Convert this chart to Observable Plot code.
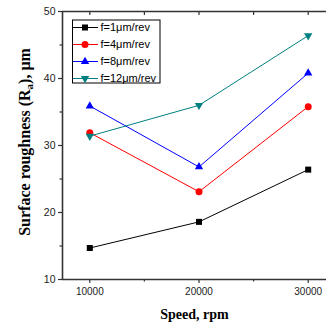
<!DOCTYPE html>
<html><head><meta charset="utf-8">
<script src="https://cdn.jsdelivr.net/npm/d3@7"></script>
<script src="https://cdn.jsdelivr.net/npm/@observablehq/plot@0.6"></script>
<style>body{margin:0;background:#fff}</style>
</head><body><div id="chart"></div>
<script>
const speeds = [10000, 20000, 30000];
const seriesNames = ["f=1μm/rev", "f=4μm/rev", "f=8μm/rev", "f=12μm/rev"];
const f1 = [14.7, 18.6, 26.4];
const f4 = [31.9, 23.1, 35.8];
const f8 = [35.9, 26.8, 40.8];
const f12 = [31.4, 36.0, 46.4];
const majorXTicks = [10000, 20000, 30000];
const minorXTicks = [15000, 25000];
const majorYTicks = [10, 20, 30, 40, 50];
const minorYTicks = [15, 25, 35, 45];
const xLabel = "Speed, rpm";

const colors = ["#000000", "#ff0000", "#0000ff", "#008080"];
const downTriangle = {
  draw(ctx, size) {
    const s3 = Math.sqrt(3);
    const y = -Math.sqrt(size / (s3 * 3));
    ctx.moveTo(0, -y * 2);
    ctx.lineTo(-s3 * y, y);
    ctx.lineTo(s3 * y, y);
    ctx.closePath();
  }
};
const symbols = ["square", "circle", "triangle", downTriangle];
const d3symbols = [d3.symbolSquare, d3.symbolCircle, d3.symbolTriangle, downTriangle];
const radii = [3.4, 3.5, 3.1, 3.1];
const allSeries = [f1, f4, f8, f12];

const tables = allSeries.map((vals, i) => speeds.map((s, j) => ({speed: s, ra: vals[j], series: seriesNames[i]})));

const axisColor = "#333";
const marks = [];
tables.forEach((t, i) => {
  marks.push(Plot.line(t, {x: "speed", y: "ra", stroke: colors[i], strokeWidth: 1}));
  marks.push(Plot.dot(t, {x: "speed", y: "ra", symbol: () => symbols[i], fill: colors[i], stroke: "none", r: radii[i]}));
});

const plot = Plot.plot({
  width: 326, height: 325,
  marginLeft: 62, marginTop: 11, marginBottom: 46, marginRight: 0,
  style: {background: "#fff", fontFamily: "Liberation Sans, Arial, sans-serif", color: "#222", overflow: "hidden"},
  x: {domain: [7500, 32500], range: [62, 335]},
  y: {domain: [10, 50], range: [279, 11]},
  symbol: {type: "identity"},
  marks: [
    Plot.axisX(majorXTicks, {tickSize: 4, tickPadding: 4, fontSize: 10, label: null, stroke: axisColor, strokeWidth: 1.2, tickFormat: d => String(d), style: "letter-spacing:-0.6px"}),
    Plot.axisX(minorXTicks, {tickSize: 2.5, text: null, label: null, stroke: axisColor, strokeWidth: 1.2}),
    Plot.axisX(majorXTicks.concat(minorXTicks), {anchor: "top", tickSize: -3, text: null, label: null, stroke: axisColor, strokeWidth: 1.2}),
    Plot.axisY(majorYTicks, {tickSize: 4, tickPadding: 3, fontSize: 10.5, label: null, stroke: axisColor, strokeWidth: 1.2}),
    Plot.axisY(minorYTicks, {tickSize: 2.5, text: null, label: null, stroke: axisColor, strokeWidth: 1.2}),
    ...marks,
    Plot.ruleY([10, 50], {stroke: axisColor, strokeWidth: 1.4}),
    Plot.ruleX([7500], {stroke: axisColor, strokeWidth: 1.6}),
    Plot.text([xLabel], {frameAnchor: "bottom", dy: 39, lineAnchor: "bottom", text: d => d, fontSize: 14, fontWeight: "bold", fontFamily: "Liberation Serif, Times New Roman, serif", fill: "#000"})
  ]
});
document.getElementById("chart").appendChild(plot);

const svg = d3.select(plot);
// y-axis label with subscript
const yl = svg.append("text")
  .attr("transform", "translate(30,142) rotate(-90)")
  .style("text-anchor", "middle")
  .style("font-family", "Liberation Serif, Times New Roman, serif")
  .style("font-weight", "bold")
  .style("font-size", "16px")
  .style("fill", "#000");
yl.append("tspan").text("Surface roughness (R");
yl.append("tspan").style("font-size", "11px").attr("dy", 3).text("a");
yl.append("tspan").attr("dy", -3).text("), μm");

// legend
const lg = svg.append("g").style("text-anchor", "start");
lg.append("rect").attr("x", 72.5).attr("y", 20).attr("width", 87.5).attr("height", 63)
  .style("fill", "#fff").style("stroke", "#000").style("stroke-width", "1px");
seriesNames.forEach((name, i) => {
  const y = 27.5 + 17 * i;
  lg.append("line").attr("x1", 73).attr("x2", 98).attr("y1", y).attr("y2", y)
    .style("stroke", colors[i]).style("stroke-width", "1px");
  lg.append("path").attr("transform", `translate(85,${y})`)
    .attr("d", d3.symbol(d3symbols[i], Math.PI * radii[i] * radii[i])())
    .style("fill", colors[i]);
  lg.append("text").attr("x", 100.5).attr("y", y).attr("dy", "0.36em")
    .style("text-anchor", "start")
    .style("font-family", "Liberation Sans, Arial, sans-serif").style("font-size", "11px")
    .style("fill", "#000").text(name);
});
</script></body></html>
